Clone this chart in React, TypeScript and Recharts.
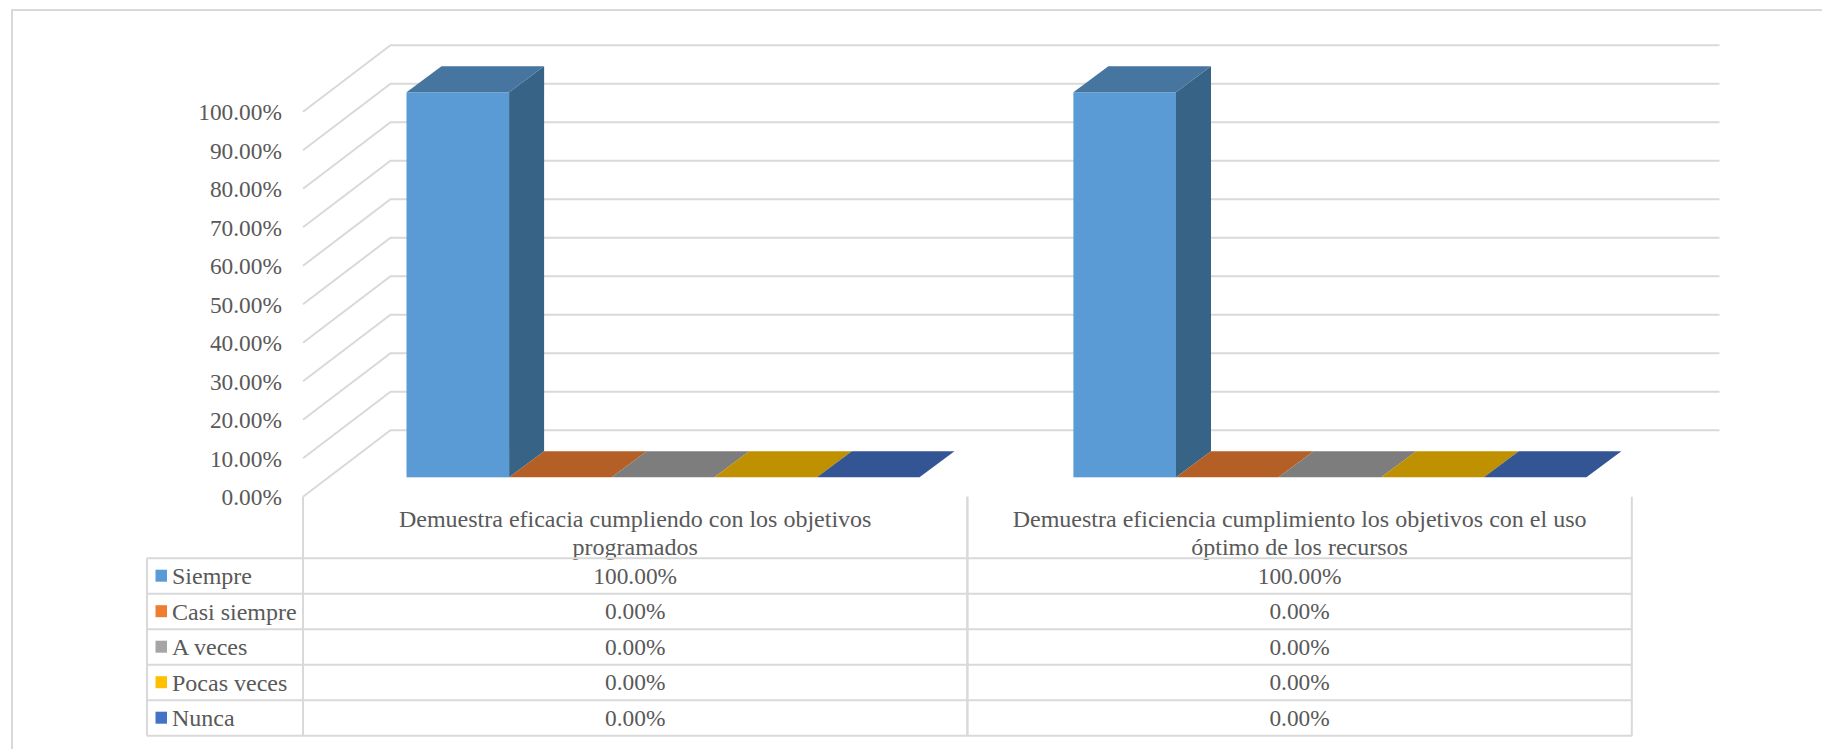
import { BarChart, Bar, XAxis, YAxis, CartesianGrid } from 'recharts';

const CATEGORIES = [
  ['Demuestra eficacia cumpliendo con los objetivos', 'programados'],
  ['Demuestra eficiencia cumplimiento los objetivos con el uso', 'óptimo de los recursos'],
];
const SERIES_NAMES = ['Siempre', 'Casi siempre', 'A veces', 'Pocas veces', 'Nunca'];
const SIEMPRE = [1, 1];
const CASI_SIEMPRE = [0, 0];
const A_VECES = [0, 0];
const POCAS_VECES = [0, 0];
const NUNCA = [0, 0];
const Y_TICKS = [0, 0.1, 0.2, 0.3, 0.4, 0.5, 0.6, 0.7, 0.8, 0.9, 1];

const SERIES_VALUES = [SIEMPRE, CASI_SIEMPRE, A_VECES, POCAS_VECES, NUNCA];
const FRONT_COLORS = ['#5B9BD5', '#ED7D31', '#A5A5A5', '#FFC000', '#4472C4'];
const TOP_COLORS = ['#4675A0', '#B45F25', '#7D7D7D', '#BF9000', '#335593'];
const SIDE_COLOR = '#376386';

const chartData = CATEGORIES.map((lines, i) => {
  const row: Record<string, string | number> = { category: lines.join(' ') };
  SERIES_NAMES.forEach((name, s) => {
    row[name] = SERIES_VALUES[s][i];
  });
  return row;
});

const pct = (v: number) => `${(v * 100).toFixed(2)}%`;

const GRID = '#d9d9d9';
const TEXT = '#595959';
const FONT = '"Liberation Serif", "Times New Roman", serif';
const NUMBER_SIZE = 23.4;
const LABEL_SIZE = 24;

// pseudo-3D offsets: wall depth, bar depth and how far the bars sit behind the front plane
const WALL_DX = 87.5;
const WALL_DY = 66.5;
const BAR_DX = 35;
const BAR_DY = 26;
const INSET_DX = 26.5;
const INSET_DY = 19.4;

// the data table is laid out on its own columns, slightly narrower than the bar bands
const TABLE_LEFT = 303;
const COLUMN_WIDTH = 664.4;
const BAND_EXTRA = 4.8;
const HEADER_H = 61.5;
const ROW_H = 35.5;
const LEGEND_LEFT = 147;

function GridLine(props: any) {
  const { x1, x2, y1 } = props;
  const end = x2 - BAND_EXTRA + WALL_DX;
  return (
    <polyline
      key={props.key ?? y1}
      points={`${x1},${y1} ${x1 + WALL_DX},${y1 - WALL_DY} ${end},${y1 - WALL_DY}`}
      fill="none"
      stroke={GRID}
      strokeWidth={2}
    />
  );
}

function Box3D(props: any) {
  const { x, y, width, height, seriesIndex } = props;
  const left = x + INSET_DX;
  const right = left + width;
  const top = y - INSET_DY;
  const bottom = top + height;
  return (
    <g>
      {height > 0 && (
        <rect x={left} y={top} width={width} height={height} fill={FRONT_COLORS[seriesIndex]} />
      )}
      {height > 0 && (
        <polygon
          points={`${right},${top} ${right + BAR_DX},${top - BAR_DY} ${right + BAR_DX},${bottom - BAR_DY} ${right},${bottom}`}
          fill={SIDE_COLOR}
        />
      )}
      <polygon
        points={`${left},${top} ${left + BAR_DX},${top - BAR_DY} ${right + BAR_DX},${top - BAR_DY} ${right},${top}`}
        fill={TOP_COLORS[seriesIndex]}
      />
    </g>
  );
}

// each x-axis tick draws its own data-table column under the plot
function TableColumnTick(props: any) {
  const { y, index } = props;
  const left = TABLE_LEFT + index * COLUMN_WIDTH;
  const right = left + COLUMN_WIDTH;
  const x = left + COLUMN_WIDTH / 2;
  const tableTop = y + HEADER_H;
  const rowY = (r: number) => tableTop + r * ROW_H;
  const labelProps = { fontFamily: FONT, fontSize: LABEL_SIZE, fill: TEXT };
  const numberProps = { fontFamily: FONT, fontSize: NUMBER_SIZE, fill: TEXT };
  return (
    <g>
      <line x1={left} x2={left} y1={y} y2={rowY(5)} stroke={GRID} strokeWidth={2} />
      <line x1={right} x2={right} y1={y} y2={rowY(5)} stroke={GRID} strokeWidth={2} />
      {CATEGORIES[index].map((line, l) => (
        <text key={l} x={x} y={y + 22 + l * 28} dy="0.34em" textAnchor="middle" {...labelProps}>
          {line}
        </text>
      ))}
      {SERIES_NAMES.map((_, r) => (
        <g key={r}>
          <line x1={left} x2={right} y1={rowY(r)} y2={rowY(r)} stroke={GRID} strokeWidth={2} />
          <text x={x} y={rowY(r) + ROW_H / 2} dy="0.34em" textAnchor="middle" {...numberProps}>
            {pct(SERIES_VALUES[r][index])}
          </text>
        </g>
      ))}
      <line x1={left} x2={right} y1={rowY(5)} y2={rowY(5)} stroke={GRID} strokeWidth={2} />
      {index === 0 && (
        <g>
          <line x1={LEGEND_LEFT} x2={LEGEND_LEFT} y1={rowY(0)} y2={rowY(5)} stroke={GRID} strokeWidth={2} />
          {SERIES_NAMES.map((name, r) => (
            <g key={name}>
              <line x1={LEGEND_LEFT} x2={left} y1={rowY(r)} y2={rowY(r)} stroke={GRID} strokeWidth={2} />
              <rect x={155.5} y={rowY(r) + 11.5} width={11.5} height={12} fill={FRONT_COLORS[r]} />
              <text x={172} y={rowY(r) + ROW_H / 2} dy="0.34em" {...labelProps}>
                {name}
              </text>
            </g>
          ))}
          <line x1={LEGEND_LEFT} x2={left} y1={rowY(5)} y2={rowY(5)} stroke={GRID} strokeWidth={2} />
        </g>
      )}
    </g>
  );
}

export default function App() {
  return (
    <div style={{ position: 'absolute', left: 0, top: 0, width: 1822, height: 749, background: '#fff', overflow: 'hidden' }}>
      <div
        style={{
          position: 'absolute',
          left: 11,
          top: 8.5,
          width: 1811,
          height: 741,
          borderLeft: `2px solid ${GRID}`,
          borderTop: `2px solid ${GRID}`,
        }}
      />
      <div style={{ position: 'absolute', left: 0, top: 0 }}>
        <BarChart
          width={1822}
          height={749}
          data={chartData}
          margin={{ top: 111.7, right: 185.2, bottom: 12.3, left: 183 }}
          barSize={102.6}
          barGap={0}
        >
          <CartesianGrid vertical={false} horizontal={GridLine} />
          <XAxis
            dataKey="category"
            height={240}
            interval={0}
            axisLine={false}
            tickLine={false}
            tickSize={0}
            tickMargin={0}
            tick={TableColumnTick}
          />
          <YAxis
            width={120}
            domain={[0, 1]}
            ticks={Y_TICKS}
            tickFormatter={pct}
            axisLine={false}
            tickLine={false}
            tickSize={0}
            tickMargin={21}
            tick={{ fontFamily: FONT, fontSize: NUMBER_SIZE, fill: TEXT }}
          />
          {SERIES_NAMES.map((name, s) => (
            <Bar
              key={name}
              dataKey={name}
              isAnimationActive={false}
              shape={(p: any) => <Box3D {...p} seriesIndex={s} />}
            />
          ))}
        </BarChart>
      </div>
    </div>
  );
}
